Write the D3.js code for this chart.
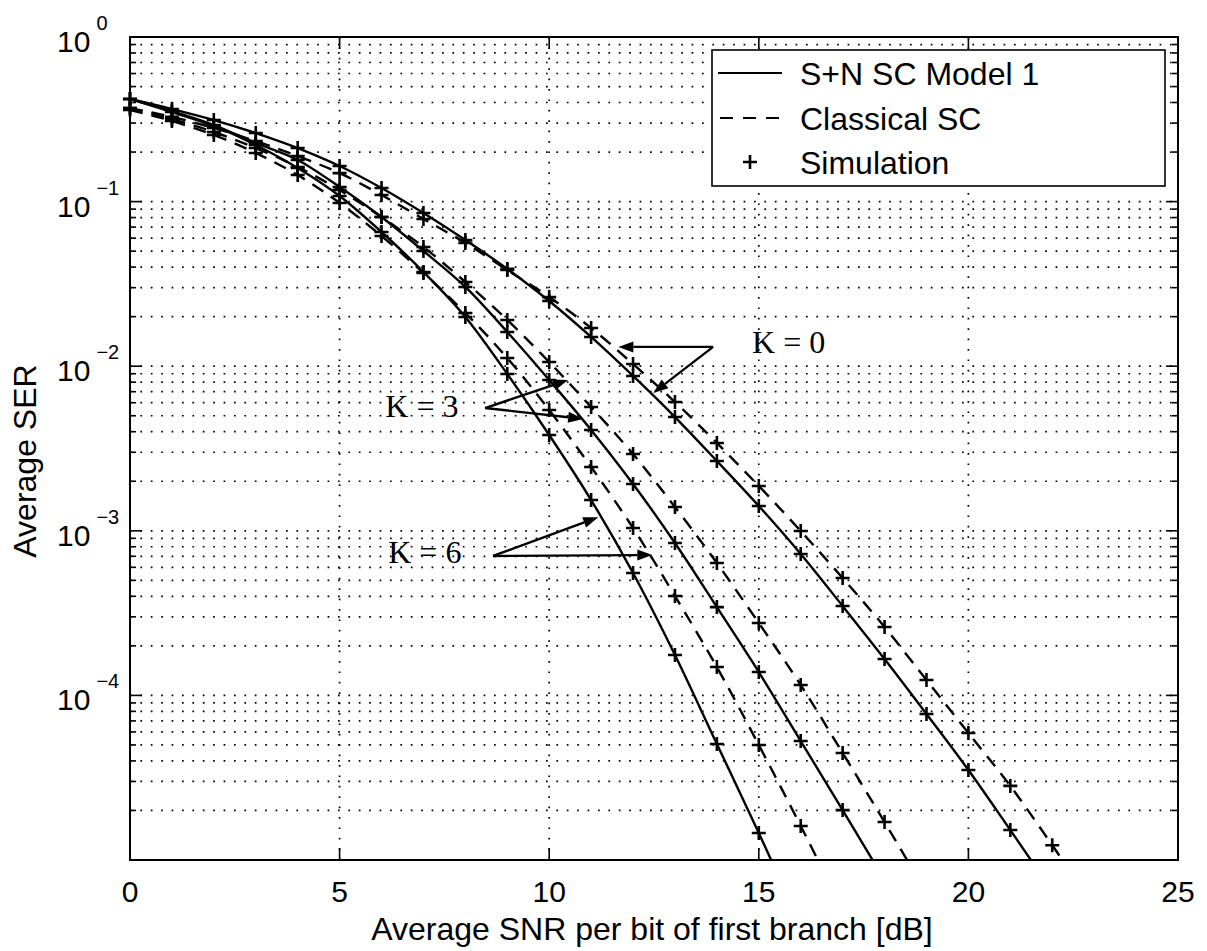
<!DOCTYPE html>
<html>
<head>
<meta charset="utf-8">
<script src="https://cdn.jsdelivr.net/npm/d3@7"></script>
<style>
  body { margin: 0; background: #fff; }
  svg { display: block; }
  text { font-family: "Liberation Sans", Arial, Helvetica, sans-serif; fill: #000; }
</style>
</head>
<body>
<svg id="chart" width="1207" height="951"></svg>
<script>
// Average SNR per bit of first branch [dB], one point per dB starting at 0
const serK0Model = [0.420, 0.365, 0.313, 0.261, 0.2116, 0.1646, 0.1209, 0.0852, 0.0584, 0.0390,
  0.0249, 0.01505, 0.00872, 0.00491, 0.002655, 0.001415, 0.000723, 0.000349, 0.0001664,
  0.0000771, 0.0000352, 0.0000152, 0.00000648];
const serK0Classical = [0.370, 0.327, 0.280, 0.233, 0.189, 0.149, 0.1097, 0.0784, 0.0561, 0.0384,
  0.0263, 0.01707, 0.01031, 0.00606, 0.003415, 0.001872, 0.000997, 0.0005167, 0.0002603,
  0.000124, 0.0000591, 0.0000282, 0.0000123, 0.00000525];
const serK3Model = [0.420, 0.355, 0.292, 0.227, 0.179, 0.1227, 0.0806, 0.0501, 0.0303, 0.01614,
  0.00825, 0.0041, 0.001924, 0.000843, 0.000344, 0.0001387, 0.0000528, 0.0000201, 0.00000756];
const serK3Classical = [0.370, 0.3176, 0.2648, 0.2116, 0.1623, 0.1176, 0.0806, 0.0530, 0.03247,
  0.01909, 0.0106, 0.00565, 0.002928, 0.001395, 0.000637, 0.0002754, 0.0001157, 0.0000447,
  0.0000170, 0.0000063];
const serK6Model = [0.420, 0.350, 0.288, 0.2207, 0.160, 0.1081, 0.06535, 0.03735, 0.0199, 0.00897,
  0.00382, 0.001538, 0.000554, 0.000176, 0.0000507, 0.0000146, 0.00000403];
const serK6Classical = [0.360, 0.3088, 0.2539, 0.1974, 0.1450, 0.0981, 0.0618, 0.03683, 0.02104,
  0.01121, 0.00542, 0.002441, 0.00104, 0.000402, 0.0001487, 0.00004996, 0.0000161, 0.00000497];

const xTicks = [0, 5, 10, 15, 20, 25];
const yLabelExponents = [0, -1, -2, -3, -4];
const legendLabels = ["S+N SC Model 1", "Classical SC", "Simulation"];

// annotation labels: [snr, ser] of the text anchor, the arrow tail and the arrow tips
const kLabels = ["K = 0", "K = 3", "K = 6"];
const kLabelPos = [[14.84, 0.0120], [6.09, 0.00491], [6.16, 0.000637]];
const kArrowFrom = [[13.91, 0.0131], [8.47, 0.00557], [8.66, 0.000703]];
const kArrowTips = [
  [[11.65, 0.0131], [12.48, 0.00687]],
  [[10.45, 0.00824], [10.81, 0.00478]],
  [[11.17, 0.00121], [12.46, 0.000713]]
];

const series = [
  { values: serK0Model, dashed: false },
  { values: serK0Classical, dashed: true },
  { values: serK3Model, dashed: false },
  { values: serK3Classical, dashed: true },
  { values: serK6Model, dashed: false },
  { values: serK6Classical, dashed: true }
];

const plot = { left: 130, right: 1178, top: 37, bottom: 860 };
const svg = d3.select("#chart");

const x = d3.scaleLinear().domain([0, 25]).range([plot.left, plot.right]);
const y = d3.scaleLog().domain([1e-5, 1]).range([plot.bottom, plot.top]);

// clip for the curves
svg.append("defs").append("clipPath").attr("id", "plotClip")
  .append("rect")
  .attr("x", plot.left).attr("y", plot.top)
  .attr("width", plot.right - plot.left).attr("height", plot.bottom - plot.top);

// dotted grid
const grid = svg.append("g").attr("stroke", "#000").attr("stroke-width", 1.7)
  .attr("stroke-dasharray", "1.7,8.7").attr("fill", "none");
const yGridValues = [];
for (let e = -5; e <= -1; e++) {
  for (let m = 1; m <= 9; m++) {
    const v = m * Math.pow(10, e);
    if (v > 1e-5 && v < 1) yGridValues.push(v);
  }
}
grid.selectAll("line.h").data(yGridValues).join("line").attr("class", "h")
  .attr("x1", plot.left).attr("x2", plot.right)
  .attr("y1", d => y(d)).attr("y2", d => y(d));
grid.selectAll("line.v").data(xTicks.filter(t => t > 0 && t < 25)).join("line").attr("class", "v")
  .attr("y1", plot.top).attr("y2", plot.bottom)
  .attr("x1", d => x(d)).attr("x2", d => x(d));

// ticks (inward, both sides)
const ticks = svg.append("g").attr("stroke", "#000").attr("stroke-width", 1.6);
const yTickData = yGridValues.map(v => ({ v, major: Math.abs(Math.log10(v) - Math.round(Math.log10(v))) < 1e-9 }));
ticks.selectAll("line.yl").data(yTickData).join("line")
  .attr("x1", plot.left).attr("x2", d => plot.left + (d.major ? 12 : 6))
  .attr("y1", d => y(d.v)).attr("y2", d => y(d.v));
ticks.selectAll("line.yr").data(yTickData).join("line")
  .attr("x1", plot.right).attr("x2", d => plot.right - (d.major ? 12 : 6))
  .attr("y1", d => y(d.v)).attr("y2", d => y(d.v));
ticks.selectAll("line.xb").data(xTicks).join("line")
  .attr("x1", d => x(d)).attr("x2", d => x(d))
  .attr("y1", plot.bottom).attr("y2", plot.bottom - 12);
ticks.selectAll("line.xt").data(xTicks).join("line")
  .attr("x1", d => x(d)).attr("x2", d => x(d))
  .attr("y1", plot.top).attr("y2", plot.top + 12);

// curves
const line = d3.line()
  .x((d, i) => x(i))
  .y(d => y(d))
  .curve(d3.curveMonotoneX);

const curves = svg.append("g").attr("clip-path", "url(#plotClip)");
curves.selectAll("path.curve").data(series).join("path")
  .attr("class", "curve")
  .attr("d", d => line(d.values))
  .attr("fill", "none")
  .attr("stroke", "#000")
  .attr("stroke-width", 2.4)
  .attr("stroke-dasharray", d => d.dashed ? "13,9" : null);

// simulation markers
const markerPts = [];
series.forEach(s => s.values.forEach((v, i) => { if (v >= 1e-5) markerPts.push([i, v]); }));
svg.append("g").selectAll("path.mk").data(markerPts).join("path")
  .attr("class", "mk")
  .attr("transform", d => `translate(${x(d[0])},${y(d[1])})`)
  .attr("d", "M-7,0H7M0,-7V7")
  .attr("stroke", "#000").attr("stroke-width", 2.6).attr("fill", "none");

// frame
svg.append("rect")
  .attr("x", plot.left).attr("y", plot.top)
  .attr("width", plot.right - plot.left).attr("height", plot.bottom - plot.top)
  .attr("fill", "none").attr("stroke", "#000").attr("stroke-width", 2);

// x tick labels
svg.append("g").selectAll("text").data(xTicks).join("text")
  .attr("x", d => x(d)).attr("y", 902)
  .attr("text-anchor", "middle")
  .attr("font-size", 30)
  .text(d => d);

// y tick labels 10^e
const yl = svg.append("g").selectAll("text").data(yLabelExponents).join("text")
  .attr("x", 57).attr("y", d => y(Math.pow(10, d)) + 15)
  .attr("font-size", 30);
yl.append("tspan").text("10");
yl.append("tspan").attr("dx", 6).attr("dy", -22).attr("font-size", 20)
  .text(d => d === 0 ? "0" : "\u2212" + Math.abs(d));

// axis titles
svg.append("text")
  .attr("x", 652).attr("y", 940)
  .attr("text-anchor", "middle").attr("font-size", 32)
  .text("Average SNR per bit of first branch [dB]");
svg.append("text")
  .attr("transform", "translate(36,461) rotate(-90)")
  .attr("text-anchor", "middle").attr("font-size", 32)
  .text("Average SER");

// K annotations with arrows
const ann = svg.append("g");
function arrow(from, to) {
  const x0 = x(from[0]), y0 = y(from[1]), x1 = x(to[0]), y1 = y(to[1]);
  const a = Math.atan2(y1 - y0, x1 - x0);
  const len = 15, hw = 5.5;
  const bx = x1 - len * Math.cos(a), by = y1 - len * Math.sin(a);
  ann.append("line").attr("x1", x0).attr("y1", y0).attr("x2", bx).attr("y2", by)
    .attr("stroke", "#000").attr("stroke-width", 2.4);
  const p = [
    [x1, y1],
    [bx + hw * Math.sin(a), by - hw * Math.cos(a)],
    [bx - hw * Math.sin(a), by + hw * Math.cos(a)]
  ];
  ann.append("polygon").attr("points", p.map(q => q.join(",")).join(" ")).attr("fill", "#000");
}
kLabels.forEach((lab, i) => {
  kArrowTips[i].forEach(tip => arrow(kArrowFrom[i], tip));
  ann.append("text")
    .attr("x", x(kLabelPos[i][0])).attr("y", y(kLabelPos[i][1]))
    .style("font-family", "'Liberation Serif', 'Times New Roman', serif")
    .attr("font-size", 32)
    .text(lab);
});

// legend
const lg = svg.append("g");
lg.append("rect").attr("x", 712).attr("y", 50).attr("width", 453).attr("height", 136)
  .attr("fill", "#fff").attr("stroke", "#000").attr("stroke-width", 1.6);
const rowY = [73, 118, 162];
lg.append("line").attr("x1", 718).attr("x2", 782).attr("y1", rowY[0]).attr("y2", rowY[0])
  .attr("stroke", "#000").attr("stroke-width", 2.2);
lg.append("line").attr("x1", 720).attr("x2", 780).attr("y1", rowY[1]).attr("y2", rowY[1])
  .attr("stroke", "#000").attr("stroke-width", 2.2).attr("stroke-dasharray", "13,10");
lg.append("path").attr("transform", `translate(750,${rowY[2]})`).attr("d", "M-7,0H7M0,-7V7")
  .attr("stroke", "#000").attr("stroke-width", 2.6);
lg.selectAll("text").data(legendLabels).join("text")
  .attr("x", 800).attr("y", (d, i) => rowY[i] + 12)
  .attr("font-size", 32)
  .text(d => d);
</script>
</body>
</html>
